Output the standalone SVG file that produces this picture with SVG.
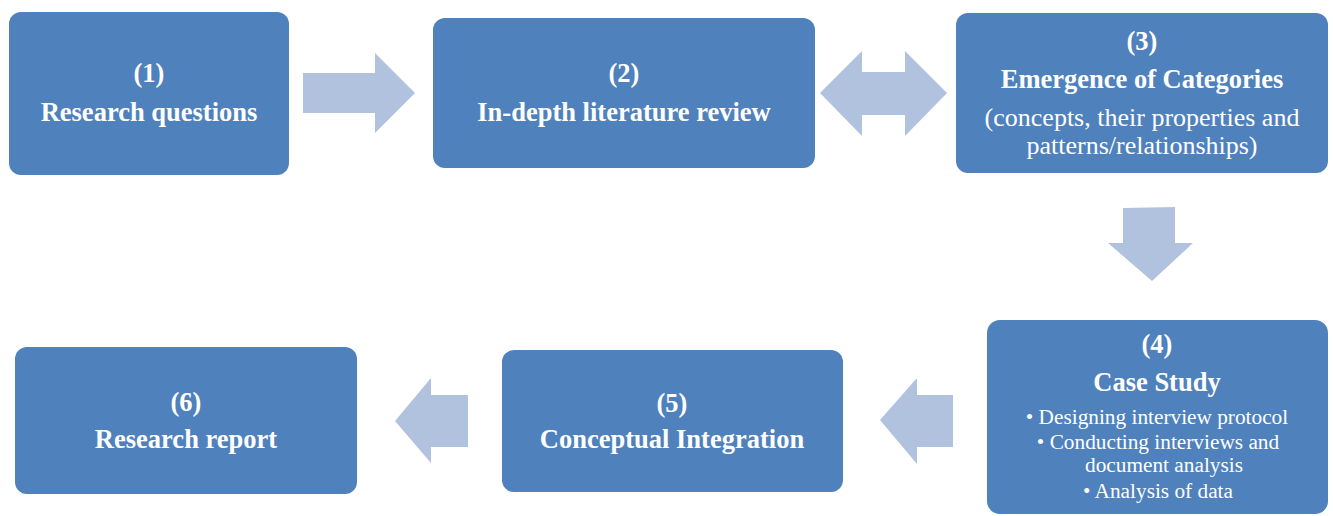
<svg xmlns="http://www.w3.org/2000/svg" width="1333" height="516" viewBox="0 0 1333 516">
  <style>
    .box { fill: #4F81BD; }
    .arrow { fill: #B1C2DE; }
    .lbl { fill: #FFFFFF; text-anchor: middle; }
    .b { font-weight: bold; font-size: 26.5px; }
    .r { font-size: 26px; }
    .s { font-size: 21.3px; }
  </style>
  <rect width="1333" height="516" fill="#FFFFFF"/>

  <!-- block arrows between steps -->
  <g id="connectors">
    <polygon class="arrow" points="303,73 375,73 375,53 415,93 375,133 375,113 303,113"/>
    <polygon class="arrow" points="820,93 862,51 862,72 905,72 905,51 947,93 905,136 905,115 862,115 862,136"/>
    <polygon class="arrow" points="1123,208 1175,207 1175,243 1193,243 1152,281 1108,243 1123,243"/>
    <polygon class="arrow" points="953,395 917,395 917,378 880,420 917,464 917,447 953,447"/>
    <polygon class="arrow" points="468,395 431,395 431,378 395,421 431,463 431,447 468,447"/>
  </g>

  <g font-family="'Liberation Serif', 'Times New Roman', Tinos, 'DejaVu Serif', serif">
  <g id="step1">
    <rect class="box" x="9" y="12" width="280" height="163" rx="12"/>
    <text class="lbl b" x="149" y="82">(1)</text>
    <text class="lbl b" x="149" y="121">Research questions</text>
  </g>

  <g id="step2">
    <rect class="box" x="433" y="18" width="382" height="150" rx="12"/>
    <text class="lbl b" x="624" y="82">(2)</text>
    <text class="lbl b" x="624" y="121">In-depth literature review</text>
  </g>

  <g id="step3">
    <rect class="box" x="956" y="13" width="372" height="160" rx="12"/>
    <text class="lbl b" x="1142" y="50">(3)</text>
    <text class="lbl b" x="1142" y="88">Emergence of Categories</text>
    <text class="lbl r" x="1142" y="126">(concepts, their properties and</text>
    <text class="lbl r" x="1142" y="154">patterns/relationships)</text>
  </g>

  <g id="step4">
    <rect class="box" x="987" y="320" width="341" height="194" rx="13"/>
    <text class="lbl b" x="1157" y="353">(4)</text>
    <text class="lbl b" x="1157" y="391">Case Study</text>
    <text class="lbl s" x="1157" y="424">• Designing interview protocol</text>
    <text class="lbl s" x="1158" y="449">• Conducting interviews and</text>
    <text class="lbl s" x="1164" y="472">document analysis</text>
    <text class="lbl s" x="1158" y="498">• Analysis of data</text>
  </g>

  <g id="step5">
    <rect class="box" x="502" y="350" width="341" height="142" rx="12"/>
    <text class="lbl b" x="672" y="412">(5)</text>
    <text class="lbl b" x="672" y="448">Conceptual Integration</text>
  </g>

  <g id="step6">
    <rect class="box" x="15" y="347" width="342" height="147" rx="12"/>
    <text class="lbl b" x="186" y="411">(6)</text>
    <text class="lbl b" x="186" y="448">Research report</text>
  </g>
  </g>
</svg>
